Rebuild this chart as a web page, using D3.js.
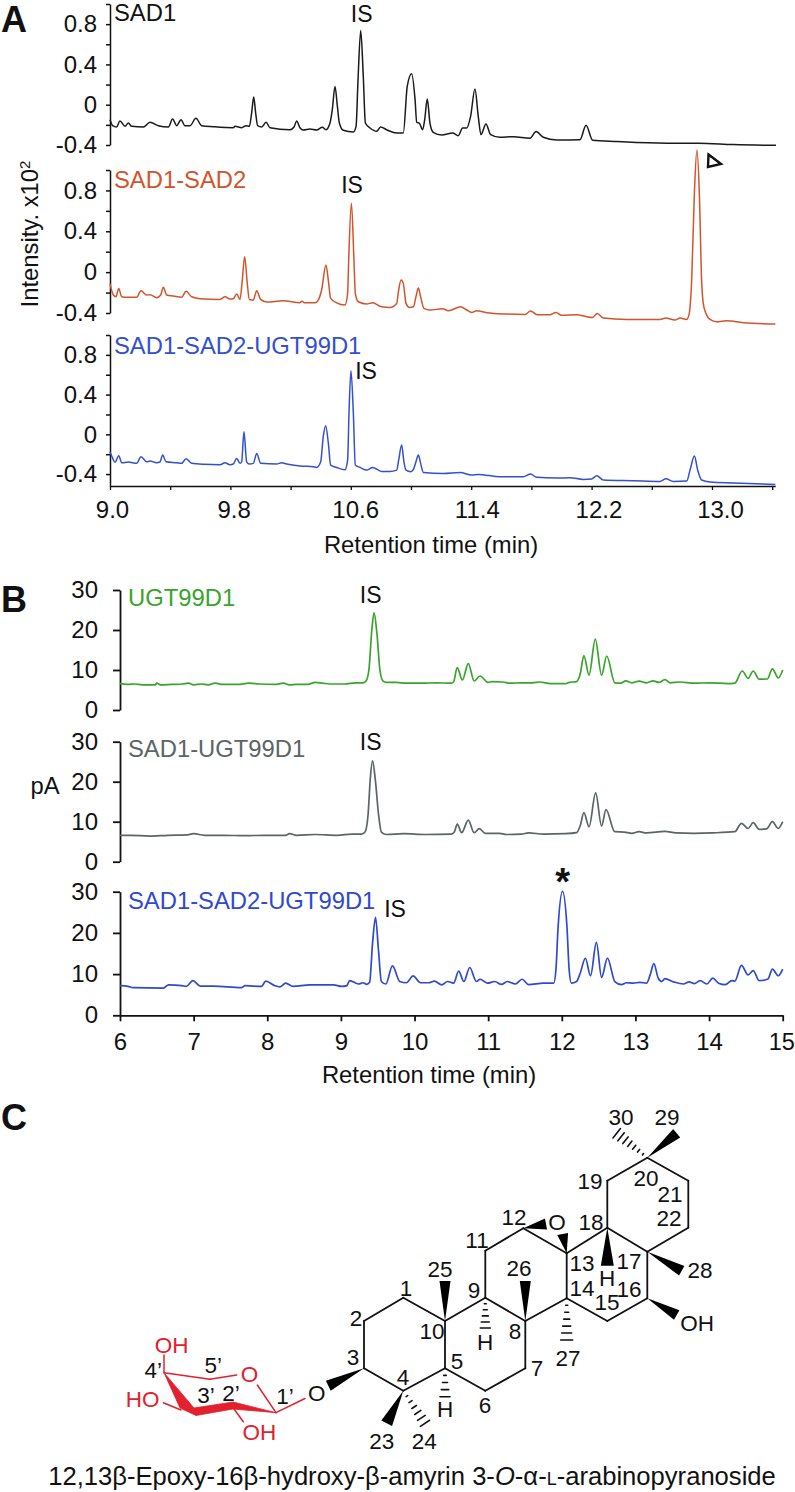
<!DOCTYPE html>
<html><head><meta charset="utf-8">
<script src="https://cdn.jsdelivr.net/npm/d3@7"></script>
<style>
html,body{margin:0;padding:0;background:#fff}
svg{display:block}
text{font-family:"Liberation Sans",Arial,sans-serif;fill:#111}
</style></head><body><svg id="c" width="795" height="1492"></svg>
<script>
// ---------- Panel A data: retention time (min) / intensity (x10^2)
const a1Times=[9.000,9.018,9.044,9.066,9.100,9.122,9.144,9.221,9.266,9.321,9.388,9.416,9.443,9.472,9.498,9.532,9.571,9.609,9.687,9.819,9.831,9.875,9.904,9.926,9.941,9.955,9.968,9.981,10.008,10.037,10.063,10.196,10.223,10.240,10.262,10.285,10.329,10.373,10.411,10.435,10.462,10.477,10.495,10.511,10.524,10.550,10.617,10.635,10.648,10.666,10.683,10.697,10.728,10.772,10.798,10.838,10.905,10.949,10.975,11.004,11.027,11.038,11.055,11.077,11.091,11.108,11.126,11.148,11.204,11.277,11.314,11.343,11.370,11.396,11.425,11.447,11.465,11.498,11.529,11.591,11.680,11.791,11.831,11.879,11.968,12.123,12.163,12.207,12.367,12.699,12.909,13.142,13.425];
const a1Values=[-.149,-.208,-.221,-.162,-.215,-.182,-.215,-.221,-.175,-.208,-.221,-.142,-.208,-.149,-.208,-.208,-.135,-.208,-.218,-.228,-.215,-.228,-.208,-.215,-.083,.076,-.083,-.208,-.221,-.175,-.228,-.248,-.221,-.162,-.228,-.251,-.241,-.251,-.224,-.248,-.182,-.05,.182,-.017,-.182,-.254,-.271,-.215,.248,.736,.281,-.182,-.231,-.264,-.221,-.248,-.281,-.281,.182,.307,.05,-.175,-.182,-.248,-.149,.056,-.182,-.274,-.300,-.281,-.307,-.231,-.231,-.116,.155,-.116,-.297,-.191,-.297,-.323,-.317,-.333,-.267,-.323,-.350,-.347,-.205,-.353,-.366,-.383,-.383,-.396,-.403];
const a2Times=[9.000,9.022,9.040,9.058,9.078,9.111,9.177,9.206,9.244,9.266,9.310,9.337,9.354,9.377,9.421,9.476,9.505,9.543,9.598,9.731,9.764,9.797,9.819,9.842,9.864,9.877,9.895,9.912,9.926,9.952,9.975,10.001,10.041,10.152,10.262,10.274,10.296,10.362,10.384,10.406,10.435,10.453,10.466,10.506,10.561,10.579,10.586,10.604,10.621,10.630,10.650,10.705,10.745,10.805,10.860,10.905,10.918,10.934,10.949,10.967,10.989,11.016,11.033,11.049,11.064,11.086,11.126,11.210,11.248,11.330,11.370,11.403,11.436,11.503,11.636,11.757,11.795,11.839,11.923,11.963,12.001,12.101,12.167,12.207,12.238,12.278,12.433,12.654,12.692,12.754,12.787,12.832,12.849,12.865,12.883,12.900,12.916,12.931,12.942,12.960,12.987,13.031,13.097,13.208,13.421];
const a2Values=[-.110,-.224,-.241,-.159,-.241,-.247,-.247,-.182,-.224,-.221,-.250,-.224,-.149,-.224,-.234,-.247,-.188,-.241,-.260,-.267,-.241,-.264,-.260,-.214,-.267,-.110,.151,-.110,-.267,-.273,-.182,-.267,-.293,-.280,-.300,-.286,-.300,-.300,-.273,-.175,.070,-.110,-.257,-.300,-.322,-.208,.119,.674,.119,-.208,-.290,-.312,-.300,-.339,-.345,-.306,-.175,-.077,-.110,-.306,-.345,-.339,-.241,-.156,-.241,-.355,-.371,-.358,-.378,-.339,-.371,-.394,-.378,-.397,-.410,-.414,-.381,-.417,-.417,-.394,-.423,-.417,-.436,-.443,-.404,-.450,-.463,-.463,-.450,-.469,-.450,-.463,-.404,-.077,.772,1.196,.772,-.077,-.306,-.404,-.463,-.486,-.476,-.495,-.508];
const a3Times=[9.000,9.018,9.033,9.058,9.078,9.122,9.177,9.206,9.244,9.266,9.310,9.332,9.350,9.372,9.443,9.476,9.505,9.543,9.620,9.731,9.764,9.797,9.819,9.842,9.864,9.875,9.890,9.908,9.926,9.952,9.975,10.001,10.107,10.141,10.174,10.262,10.351,10.373,10.400,10.417,10.433,10.451,10.466,10.506,10.561,10.579,10.588,10.601,10.617,10.630,10.661,10.705,10.745,10.805,10.860,10.905,10.918,10.938,10.953,10.967,10.998,11.016,11.033,11.049,11.064,11.082,11.215,11.326,11.403,11.447,11.591,11.746,11.795,11.835,11.968,12.056,12.145,12.200,12.234,12.278,12.477,12.654,12.694,12.743,12.832,12.854,12.883,12.905,12.931,12.987,13.142,13.421];
const a3Values=[-.175,-.242,-.282,-.215,-.286,-.279,-.292,-.225,-.276,-.269,-.286,-.279,-.208,-.276,-.286,-.292,-.245,-.292,-.302,-.306,-.286,-.306,-.299,-.242,-.292,-.276,.027,-.276,-.299,-.292,-.192,-.292,-.299,-.286,-.299,-.319,-.326,-.333,-.276,-.024,.087,-.091,-.309,-.333,-.356,-.259,.211,.641,.211,-.309,-.333,-.360,-.333,-.373,-.373,-.360,-.259,-.108,-.276,-.360,-.376,-.353,-.276,-.208,-.292,-.383,-.393,-.383,-.410,-.403,-.427,-.427,-.400,-.433,-.440,-.437,-.454,-.450,-.417,-.460,-.467,-.474,-.447,-.474,-.470,-.360,-.219,-.360,-.460,-.480,-.490,-.504];

// ---------- Panel B data: retention time (min) / pA
const b1Times=[6.00,6.10,6.20,6.30,6.48,6.50,6.55,6.70,6.85,6.93,7.00,7.10,7.20,7.29,7.40,7.60,7.75,7.90,8.10,8.22,8.30,8.40,8.55,8.65,8.75,8.85,9.05,9.20,9.30,9.34,9.38,9.42,9.45,9.49,9.53,9.57,9.62,9.75,9.90,10.10,10.30,10.50,10.53,10.58,10.65,10.73,10.81,10.89,11.00,11.05,11.20,11.30,11.45,11.60,11.70,11.85,12.05,12.10,12.20,12.25,12.30,12.37,12.455,12.54,12.61,12.72,12.80,12.87,12.95,13.05,13.15,13.24,13.32,13.40,13.47,13.60,13.80,14.00,14.30,14.35,14.45,14.53,14.60,14.68,14.79,14.86,14.94,15.00];
const b1Values=[6.6,6.4,6.5,6.3,6.3,6.7,6.3,6.4,6.5,6.7,6.3,6.5,6.3,6.7,6.4,6.4,6.7,6.5,6.4,6.7,6.3,6.4,6.4,6.9,6.7,6.5,6.5,6.8,6.8,7.2,10,20,24.3,19,10,7.3,6.9,6.9,6.7,6.7,6.8,6.7,7.0,10.6,7.5,11.6,7.25,8.5,6.9,7.1,7.0,6.7,6.8,6.8,7.0,6.6,6.6,6.9,7.1,9,13.6,8.7,17.7,8.7,13.5,6.8,6.7,7.3,6.8,7.2,6.8,7.3,6.9,7.6,6.8,7.0,6.7,6.8,6.6,6.7,9.75,7.9,9.75,7.7,7.75,10.3,8,10];
const b2Times=[6.00,6.15,6.40,6.65,6.90,7.00,7.15,7.40,7.70,7.95,8.25,8.30,8.40,8.65,8.95,9.15,9.28,9.33,9.37,9.40,9.43,9.47,9.51,9.55,9.62,9.85,10.15,10.50,10.54,10.58,10.64,10.73,10.81,10.88,10.96,11.15,11.25,11.45,11.55,11.75,12.05,12.20,12.25,12.30,12.37,12.46,12.54,12.60,12.72,12.85,12.95,13.05,13.15,13.40,13.55,13.80,14.05,14.35,14.44,14.53,14.60,14.68,14.78,14.86,14.94,15.00];
const b2Values=[6.6,6.6,6.4,6.6,6.7,7.0,6.6,6.6,6.5,6.6,6.6,7.0,6.6,6.8,6.6,6.9,6.9,7.5,12,21,25.2,20,12,7.4,6.8,7.0,6.8,6.9,7.4,9.4,7.25,10.4,7.25,8.25,7.1,7.1,6.8,6.9,7.2,6.9,7.0,7.25,9,12.25,8.75,17.2,8.9,13,7.5,7.4,7.1,7.5,7.2,7.6,7.2,7.1,7.2,7.5,9.6,8.3,9.75,8.1,8.2,10,8.3,10];
const b3Times=[6.00,6.11,6.18,6.59,6.66,6.84,6.90,6.99,7.09,7.27,7.65,7.70,7.92,7.98,8.10,8.17,8.25,8.35,8.58,8.90,9.01,9.08,9.12,9.24,9.30,9.35,9.39,9.43,9.47,9.51,9.55,9.61,9.70,9.80,9.89,9.98,10.08,10.19,10.27,10.37,10.45,10.53,10.60,10.67,10.75,10.84,10.89,10.99,11.09,11.18,11.26,11.37,11.46,11.55,11.75,11.89,11.92,11.95,12.01,12.07,12.10,12.13,12.20,12.25,12.32,12.39,12.47,12.54,12.62,12.72,12.81,12.88,12.97,13.06,13.15,13.20,13.25,13.31,13.36,13.40,13.52,13.65,13.73,13.80,13.88,13.97,14.05,14.13,14.22,14.31,14.35,14.44,14.53,14.60,14.68,14.80,14.86,14.94,15.00];
const b3Values=[7.2,7.0,6.7,6.6,7.4,7.2,7.0,8.4,7.1,7.1,6.7,7.2,7.0,8.3,7.2,6.9,7.8,7.0,7.4,7.4,7,7.2,8.4,7.6,7.9,7.5,8.0,17.5,23.8,15.9,8.2,7.6,12,8.2,7.9,9.55,7.9,7.9,8.3,7.4,8.2,7.8,10.7,8.2,11.6,8.2,8.75,7.8,8.2,7.5,8.2,7.6,8.75,7.45,7.8,7.8,11,21.5,30.1,21.5,11,7.8,8.2,10.2,13.85,9.6,17.7,9.2,13.9,8.2,7.45,7.9,7.8,8.0,7.8,9.8,12.55,9,8.2,8.9,8.1,7.6,8.1,7.7,8.4,7.6,9,7.8,7.45,8.4,8.3,12.1,9.8,10.85,8.4,8.8,11.2,9.6,11.2];

// ---------- Axis content
const aTicks=[9,9.4,9.8,10.2,10.6,11,11.4,11.8,12.2,12.6,13,13.4];
const aTickLabels=["9.0","9.8","10.6","11.4","12.2","13.0"];
const aYTicks=[-0.4,-0.2,0,0.2,0.4,0.6,0.8,1];
const aYLabels=["-0.4","0","0.4","0.8"];
const bTicks=[6,7,8,9,10,11,12,13,14,15];
const bYTicks=[0,10,20,30];

// ---------- Panel C: molecule (drawing-space points)
const atoms={c1:[403.3,1297.7],c2:[364,1321],c3:[364,1368.3],c4:[403.3,1390.7],c5:[445,1368.3],c6:[485.3,1390.7],c7:[525.3,1368.3],c8:[525.3,1321],c9:[485.3,1297.7],c10:[445,1321],c11:[485.3,1250.7],c12:[523.3,1228.3],c13:[566.7,1253.3],c14:[566.7,1298.3],c15:[607.3,1321],c16:[647.3,1298.3],c17:[647.3,1251.7],c18:[607.3,1227.7],c19:[607.3,1180.7],c20:[647.3,1157.7],c21:[688.3,1180.7],c22:[688.3,1227.7],
 me23:[386.7,1423.3],me24:[425,1423.3],me25:[445,1281],me26:[525.3,1281],me27:[566.7,1340],h18:[607.3,1265.7],me28:[681.7,1270.7],oh16:[676.7,1315],me29:[676.7,1133.3],me30:[616.7,1133.3],o3:[328.3,1385.7],oa:[546,1224],ob:[562.7,1234],h9:[485.3,1328],h5:[445,1396.7],
 s4:[164,1372.7],s5:[210,1379.3],so1:[236.7,1375],so2:[257.3,1385],s1:[276,1412.7],s2:[233.3,1404],s3:[195,1412.7],sOa:[164,1355],sHO:[163.3,1402.7],sHOb:[181,1410],sOH:[243.3,1421.7],sOHb:[233.3,1408],sO:[305,1398.5]};
const plainBonds=[["c1","c2"],["c2","c3"],["c3","c4"],["c4","c5"],["c5","c10"],["c10","c1"],["c5","c6"],["c6","c7"],["c7","c8"],["c8","c9"],["c9","c10"],["c9","c11"],["c11","c12"],["c12","c13"],["c13","c14"],["c14","c8"],["c14","c15"],["c15","c16"],["c16","c17"],["c17","c18"],["c18","c13"],["c18","c19"],["c19","c20"],["c20","c21"],["c21","c22"],["c22","c17"]];
const wedgeBonds=[["c10","me25",11],["c8","me26",11],["c18","h18",13],["c17","me28",11],["c16","oh16",11],["c20","me29",11],["c12","oa",11],["c13","ob",11],["c3","o3",11],["c4","me23",12]];
const hashBonds=[["c9","h9",5,10],["c14","me27",6,12],["c5","h5",4,10],["c4","me24",6,11],["c20","me30",7,12]];
const redBonds=[["s4","s5"],["s5","so1"],["so2","s1"],["s4","sOa"],["sHO","sHOb"],["sOHb","sOH"],["s1","sO"]];
const sugarOutline=[[164,1372.7],[194,1408],[233,1402],[276,1412.7],[233,1409],[196,1415.5],[180,1408]];
const atomLabels=[["1",406,1288],["2",356,1318],["3",353,1357],["4",403,1377],["5",457,1361],["6",485,1405],["7",537,1368],["8",515,1331],["9",474,1290],["10",432,1331],["11",477,1240],["12",514,1217],["13",582,1263],["14",582,1288],["15",607,1302],["16",629,1289],["17",629,1261],["18",591,1222],["19",590,1181],["20",646,1178],["21",670,1194],["22",669,1218],["25",440,1269],["26",519,1268],["27",568,1358],["28",700,1270],["29",667,1117],["30",621,1117],["23",381.7,1441.7],["24",424.3,1441.7],["H",607,1278],["H",485,1342],["H",445,1409],["O",557,1222],["OH",697,1323],["O",316.7,1393.3],["4’",153.3,1370.7],["5’",213.3,1365],["3’",206,1395],["2’",231,1393],["1’",285,1396.7]];
const redLabels=[["OH",171.7,1345.7],["O",249.5,1374],["HO",142.7,1399],["OH",259.3,1432.7]];

// ---------- Layout
const svg=d3.select("#c");
const ax=d3.scaleLinear().domain([9,13.42]).range([110,775.2]);
const axLab=d3.scaleLinear().domain([9,13]).range([112,720]);
const bx=d3.scaleLinear().domain([6,15]).range([120,782.7]);
const panelsA=[
 {t:a1Times,v:a1Values,y:d3.scaleLinear().domain([-.4,1]).range([145,4]),c:"#1a1a1a",w:1.5},
 {t:a2Times,v:a2Values,y:d3.scaleLinear().domain([-.4,1]).range([313,170]),c:"#d4532b",w:1.5},
 {t:a3Times,v:a3Values,y:d3.scaleLinear().domain([-.52,1]).range([486,335]),c:"#3350d0",w:1.5}];
const panelsB=[
 {t:b1Times,v:b1Values,y:d3.scaleLinear().domain([0,30]).range([710,590]),c:"#38a42c",w:1.7},
 {t:b2Times,v:b2Values,y:d3.scaleLinear().domain([0,30]).range([861.7,741.7]),c:"#5b6565",w:1.7},
 {t:b3Times,v:b3Values,y:d3.scaleLinear().domain([0,30]).range([1015.3,891.7]),c:"#2f49d0",w:1.7}];

function trace(p,x){
 const pts=p.t.map((t,i)=>[t,p.v[i]]);
 svg.append("path").datum(pts).attr("fill","none").attr("stroke",p.c).attr("stroke-width",p.w).attr("stroke-linejoin","round")
  .attr("d",d3.line().x(d=>x(d[0])).y(d=>p.y(d[1])).curve(d3.curveMonotoneX));
}
function styleAxis(g,w){
 g.selectAll("path,line").attr("stroke","#111").attr("stroke-width",w);
 g.selectAll("text").style("font-size","24px").style("font-family",'"Liberation Sans",Arial,sans-serif').attr("fill","#111");
}
const fmtA=d=>aYLabels.includes(String(d))?String(d):(d===0?"0":"");
panelsA.forEach(p=>{
 const g=svg.append("g").attr("transform","translate(110,0)").call(d3.axisLeft(p.y).tickValues(aYTicks).tickSize(4).tickSizeOuter(0).tickPadding(9).tickFormat(fmtA));
 styleAxis(g,1.5);
 trace(p,ax);
});
panelsB.forEach(p=>{
 const g=svg.append("g").attr("transform","translate(120,0)").call(d3.axisLeft(p.y).tickValues(bYTicks).tickSize(7).tickSizeOuter(0).tickPadding(15));
 styleAxis(g,1.8);
 trace(p,bx);
});
// x axes
const gxa=svg.append("g").attr("transform","translate(0,486)").call(d3.axisBottom(ax).tickValues(aTicks).tickSize(4).tickSizeOuter(0).tickPadding(11)
  .tickFormat(d=>{const s=d.toFixed(1);return aTickLabels.includes(s)?s:""}));
styleAxis(gxa,1.3);
gxa.selectAll("text").attr("transform",d=>`translate(${axLab(d)-ax(d)},0)`);
const gxb=svg.append("g").attr("transform","translate(0,1015.3)").call(d3.axisBottom(bx).tickValues(bTicks).tickSize(6).tickSizeOuter(0).tickPadding(12));
styleAxis(gxb,1.8);
gxb.selectAll("text").filter(d=>d===15).attr("dx",-1.5).style("font-size","23.5px");

// Text helpers
function txt(s,x,y,o={}){
 const t=svg.append("text").attr("x",x).attr("y",y).text(s).style("font-size",(o.size||23.8)+"px");
 if(o.fill) t.style("fill",o.fill);
 if(o.anchor) t.attr("text-anchor",o.anchor);
 if(o.weight) t.style("font-weight",o.weight);
 return t;
}
txt("A",1,32,{size:36,weight:"bold"});
txt("B",1,612,{size:36,weight:"bold"});
txt("C",1,1130,{size:36,weight:"bold"});
txt("SAD1",114,21);
txt("SAD1-SAD2",114,188,{fill:"#d4532b"});
txt("SAD1-SAD2-UGT99D1",114,354,{fill:"#3350d0"});
txt("UGT99D1",128,606,{fill:"#38a42c"});
txt("SAD1-UGT99D1",128,757,{fill:"#5b6565"});
txt("SAD1-SAD2-UGT99D1",128,908.7,{fill:"#2f49d0"});
[[361.7,21.7],[352,192.7],[366,379],[370.7,603],[370.7,750],[395,917]].forEach(d=>txt("IS",d[0],d[1],{anchor:"middle",size:23}));
txt("*",562.7,895,{size:38,weight:"bold",anchor:"middle"});
txt("Retention time (min)",431,553,{anchor:"middle"});
txt("Retention time (min)",429,1083,{anchor:"middle"});
txt("pA",45,794,{anchor:"middle"});
const yl=svg.append("text").attr("transform","translate(38,234) rotate(-90)").attr("text-anchor","middle").style("font-size","23.8px");
yl.append("tspan").text("Intensity. x10");
yl.append("tspan").text("2").attr("dy",-8).style("font-size","15px");
// Arrowhead marker
svg.append("path").attr("d",d3.line()([[708.5,154.5],[721,164],[708,167]])+"Z").attr("fill","none").attr("stroke","#111").attr("stroke-width",2.4);

// Molecule
const id=d3.scaleIdentity();
const P=k=>[id(atoms[k][0]),id(atoms[k][1])];
function seg(a,b,c,w){svg.append("line").attr("x1",a[0]).attr("y1",a[1]).attr("x2",b[0]).attr("y2",b[1]).attr("stroke",c).attr("stroke-width",w).attr("stroke-linecap","round");}
plainBonds.forEach(b=>seg(P(b[0]),P(b[1]),"#111",1.8));
wedgeBonds.forEach(([a,b,w])=>{
 const A=P(a),B=P(b),dx=B[0]-A[0],dy=B[1]-A[1],L=Math.hypot(dx,dy),nx=-dy/L*w/2,ny=dx/L*w/2;
 svg.append("path").attr("d",d3.line()([A,[B[0]+nx,B[1]+ny],[B[0]-nx,B[1]-ny]])+"Z").attr("fill","#000");
});
hashBonds.forEach(([a,b,n,w])=>{
 const A=P(a),B=P(b),dx=B[0]-A[0],dy=B[1]-A[1],L=Math.hypot(dx,dy);
 d3.range(1,n+1).forEach(i=>{
  const f=i/n,hw=w/2*f,cx=A[0]+dx*f,cy=A[1]+dy*f,nx=-dy/L*hw,ny=dx/L*hw;
  seg([cx+nx,cy+ny],[cx-nx,cy-ny],"#111",1.6);
 });
});
redBonds.forEach(b=>seg(P(b[0]),P(b[1]),"#e3202e",1.5));
svg.append("path").attr("d",d3.line()(sugarOutline)+"Z").attr("fill","#e3202e").attr("stroke","#e3202e").attr("stroke-width",.8);
atomLabels.forEach(d=>{
 txt(d[0],d[1],d[2],{size:22.5,anchor:"middle"}).attr("dominant-baseline","central");
});
redLabels.forEach(d=>{
 txt(d[0],d[1],d[2],{size:22.5,anchor:"middle",fill:"#e3202e"}).attr("dominant-baseline","central");
});
const cap=svg.append("text").attr("x",412).attr("y",1485).attr("text-anchor","middle").style("font-size","25.6px");
cap.append("tspan").text("12,13β-Epoxy-16β-hydroxy-β-amyrin 3-");
cap.append("tspan").text("O").style("font-style","italic");
cap.append("tspan").text("-α-");
cap.append("tspan").text("L").style("font-size","18px");
cap.append("tspan").text("-arabinopyranoside");
</script></body></html>
